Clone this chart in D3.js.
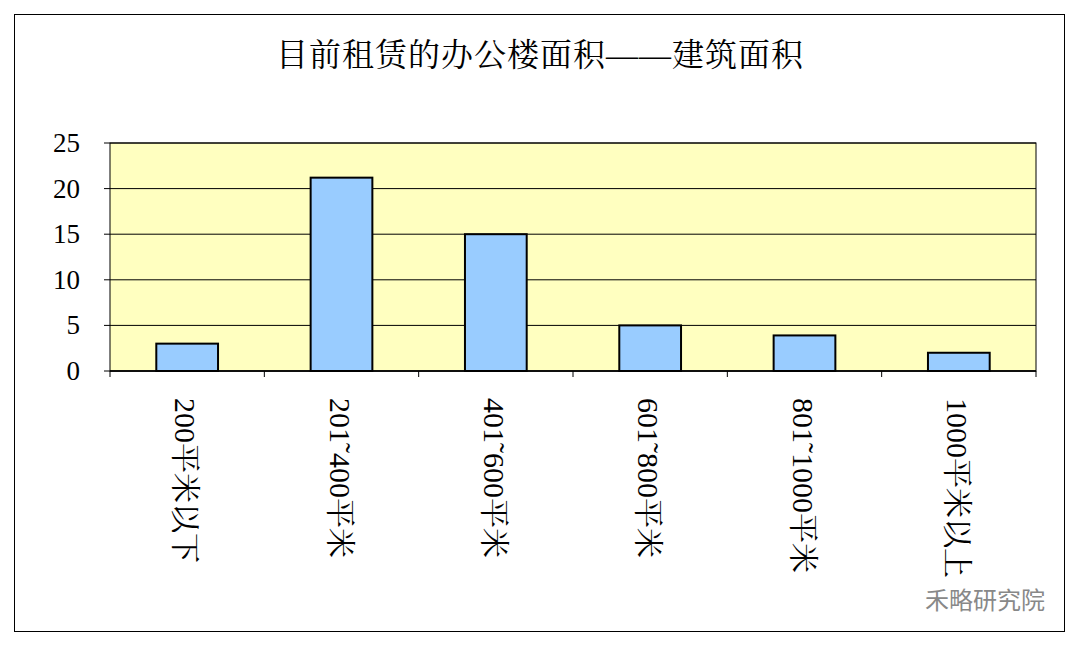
<!DOCTYPE html>
<html><head><meta charset="utf-8">
<script src="https://cdn.jsdelivr.net/npm/d3@7"></script>
<style>body{margin:0;background:#fff}</style>
</head><body>
<svg id="c" width="1080" height="646"></svg>
<script>
const categories = ["200平米以下","201˜400平米","401˜600平米","601˜800平米","801˜1000平米","1000平米以上"];
const values = [3, 21.2, 15, 5, 3.9, 2];
const yTicks = [0,5,10,15,20,25];
const title = "目前租赁的办公楼面积——建筑面积";

const svg = d3.select("#c");
const font = "'Liberation Serif','Noto Serif CJK SC','Noto Sans CJK SC',serif";
svg.append("rect").attr("x",14.5).attr("y",14.5).attr("width",1050).attr("height",617)
  .attr("fill","#fff").attr("stroke","#000").attr("stroke-width",1);
svg.append("text").attr("x",540).attr("y",66).attr("text-anchor","middle")
  .attr("font-family",font).attr("font-size",32).attr("letter-spacing",1).text(title);

const L=110,R=1036,T=143,B=371;
const x=d3.scaleBand().domain(categories).range([L,R]).paddingInner(0.6).paddingOuter(0.3);
const y=d3.scaleLinear().domain([0,25]).range([B,T]);
svg.append("rect").attr("x",L).attr("y",T).attr("width",R-L).attr("height",B-T).attr("fill","#ffffc0");
svg.append("g").selectAll("line").data(yTicks).join("line")
  .attr("x1",L).attr("x2",R).attr("y1",d=>y(d)).attr("y2",d=>y(d)).attr("stroke","#000").attr("stroke-width",1);
svg.append("rect").attr("x",L).attr("y",T).attr("width",R-L).attr("height",B-T).attr("fill","none").attr("stroke","#000");
svg.append("g").selectAll("line").data(yTicks).join("line")
  .attr("x1",L-6).attr("x2",L).attr("y1",d=>y(d)).attr("y2",d=>y(d)).attr("stroke","#000");
svg.append("g").selectAll("text").data(yTicks).join("text")
  .attr("x",L-30).attr("y",d=>y(d)+9).attr("text-anchor","end")
  .attr("font-family",font).attr("font-size",27).text(d=>d);
svg.append("g").selectAll("rect").data(values).join("rect")
  .attr("x",(d,i)=>x(categories[i])).attr("width",x.bandwidth())
  .attr("y",d=>y(d)).attr("height",d=>B-y(d))
  .attr("fill","#99ccff").attr("stroke","#000").attr("stroke-width",2);
const step=(R-L)/categories.length;
svg.append("g").selectAll("line").data(d3.range(categories.length+1)).join("line")
  .attr("x1",i=>L+i*step).attr("x2",i=>L+i*step).attr("y1",B).attr("y2",B+6).attr("stroke","#000");
svg.append("line").attr("x1",L).attr("x2",R).attr("y1",B).attr("y2",B).attr("stroke","#000").attr("stroke-width",1.5);
svg.append("g").selectAll("text").data(categories).join("text")
  .attr("transform",d=>`translate(${x(d)+x.bandwidth()/2-12},398) rotate(90)`)
  .attr("font-family",font).attr("font-size",30).text(d=>d);
svg.append("text").attr("x",1045).attr("y",609).attr("text-anchor","end")
  .attr("font-family","'Noto Sans CJK SC',sans-serif").attr("font-size",24).attr("fill","#888").text("禾略研究院");
</script>
</body></html>
